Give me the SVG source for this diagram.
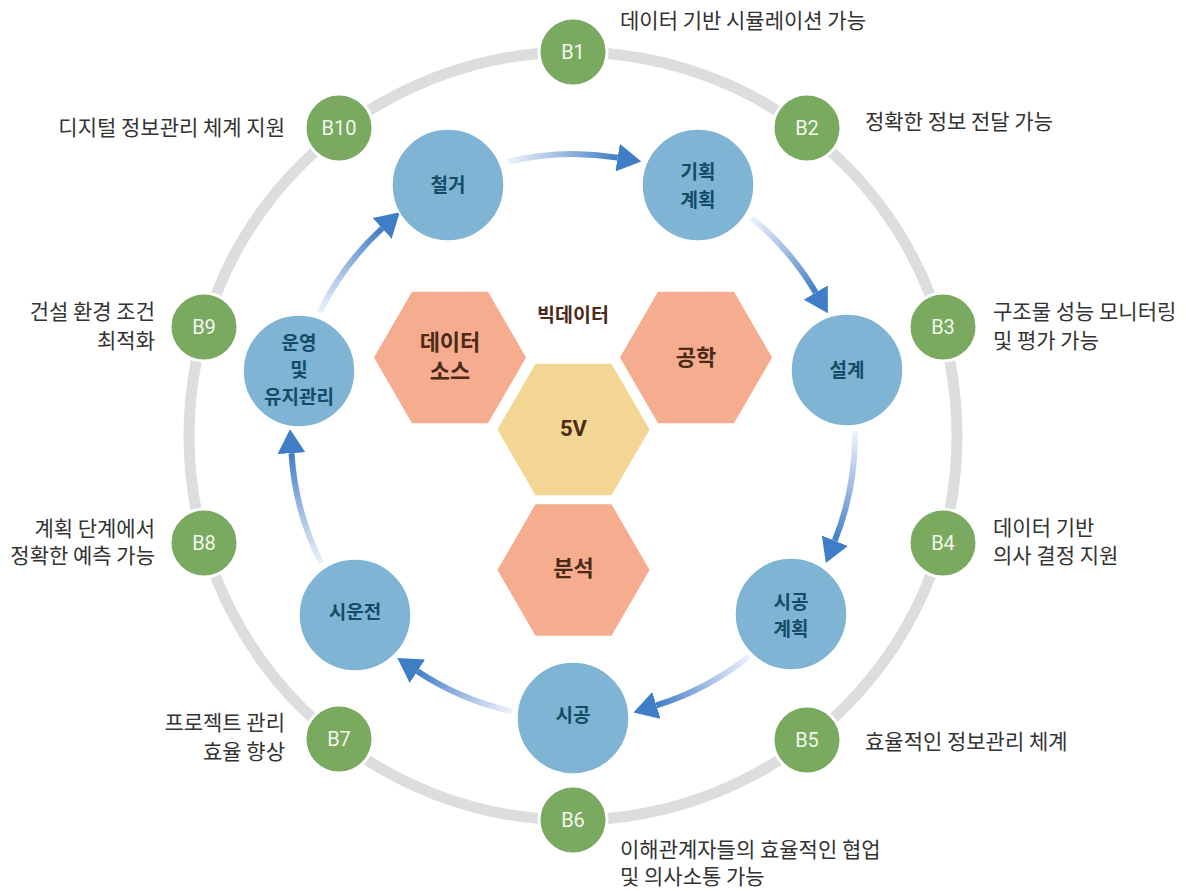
<svg xmlns="http://www.w3.org/2000/svg" width="1186" height="891" viewBox="0 0 1186 891">
<style>
.ring{fill:none;stroke:#dcdddf;stroke-width:11}
.bn{fill:#7aa960;stroke:#ffffff;stroke-width:3}
.bt{font-family:Roboto,"Noto Sans",sans-serif;font-size:20px;fill:#f3f7ee;text-anchor:middle}
.lb{font-family:"Noto Sans CJK KR","Noto Sans",sans-serif;font-size:21px;fill:#333333}
.pn{fill:#7fb4d4;stroke:#ffffff;stroke-width:1.5}
.pt{font-family:"Noto Sans CJK KR","Noto Sans",sans-serif;font-size:19px;font-weight:700;fill:#134c66;text-anchor:middle}
.hx{fill:#f6ac8f;stroke:#ffffff;stroke-width:1.5}
.hy{fill:#f4d694;stroke:#ffffff;stroke-width:1.5}
.ht{font-family:"Noto Sans CJK KR","Noto Sans",sans-serif;font-size:22px;font-weight:700;fill:#4b2a18;text-anchor:middle}
.ar{fill:none;stroke-width:6}
</style>
<defs>
<marker id="ah" markerUnits="userSpaceOnUse" markerWidth="24" markerHeight="28" viewBox="0 0 24 28" refX="0" refY="14" orient="auto">
<path d="M0,0 L24,14 L0,28 Z" fill="#3f7ec6"/>
</marker>
<linearGradient id="g1" gradientUnits="userSpaceOnUse" x1="507.2" y1="161.8" x2="617.6" y2="157.6"><stop offset="0" stop-color="#eef3fb"/><stop offset="0.5" stop-color="#9fbae3"/><stop offset="1" stop-color="#3f7ec6"/></linearGradient>
<linearGradient id="g2" gradientUnits="userSpaceOnUse" x1="751.6" y1="217.8" x2="815.7" y2="292.5"><stop offset="0" stop-color="#eef3fb"/><stop offset="0.5" stop-color="#9fbae3"/><stop offset="1" stop-color="#3f7ec6"/></linearGradient>
<linearGradient id="g3" gradientUnits="userSpaceOnUse" x1="854.9" y1="431.1" x2="834.8" y2="540.7"><stop offset="0" stop-color="#eef3fb"/><stop offset="0.5" stop-color="#9fbae3"/><stop offset="1" stop-color="#3f7ec6"/></linearGradient>
<linearGradient id="g4" gradientUnits="userSpaceOnUse" x1="748.9" y1="656.4" x2="656.4" y2="705.4"><stop offset="0" stop-color="#eef3fb"/><stop offset="0.5" stop-color="#9fbae3"/><stop offset="1" stop-color="#3f7ec6"/></linearGradient>
<linearGradient id="g5" gradientUnits="userSpaceOnUse" x1="512.0" y1="711.3" x2="417.4" y2="671.2"><stop offset="0" stop-color="#eef3fb"/><stop offset="0.5" stop-color="#9fbae3"/><stop offset="1" stop-color="#3f7ec6"/></linearGradient>
<linearGradient id="g6" gradientUnits="userSpaceOnUse" x1="321.3" y1="563.2" x2="291.5" y2="453.2"><stop offset="0" stop-color="#eef3fb"/><stop offset="0.5" stop-color="#9fbae3"/><stop offset="1" stop-color="#3f7ec6"/></linearGradient>
<linearGradient id="g7" gradientUnits="userSpaceOnUse" x1="319.5" y1="312.4" x2="382.1" y2="228.4"><stop offset="0" stop-color="#eef3fb"/><stop offset="0.5" stop-color="#9fbae3"/><stop offset="1" stop-color="#3f7ec6"/></linearGradient>
</defs>
<rect width="1186" height="891" fill="#ffffff"/>
<circle class="ring" cx="573" cy="436" r="384"/>

<g id="connectors">
<path class="ar" stroke="url(#g1)" marker-end="url(#ah)" d="M507.2,161.8 A282,282 0 0 1 617.6,157.6"/>
<path class="ar" stroke="url(#g2)" marker-end="url(#ah)" d="M751.6,217.8 A282,282 0 0 1 815.7,292.5"/>
<path class="ar" stroke="url(#g3)" marker-end="url(#ah)" d="M854.9,431.1 A282,282 0 0 1 834.8,540.7"/>
<path class="ar" stroke="url(#g4)" marker-end="url(#ah)" d="M748.9,656.4 A282,282 0 0 1 656.4,705.4"/>
<path class="ar" stroke="url(#g5)" marker-end="url(#ah)" d="M512.0,711.3 A282,282 0 0 1 417.4,671.2"/>
<path class="ar" stroke="url(#g6)" marker-end="url(#ah)" d="M321.3,563.2 A282,282 0 0 1 291.5,453.2"/>
<path class="ar" stroke="url(#g7)" marker-end="url(#ah)" d="M319.5,312.4 A282,282 0 0 1 382.1,228.4"/>
</g>

<g id="B1"><circle class="bn" cx="573" cy="52" r="34"/><text class="bt" x="573" y="59">B1</text><text class="lb" x="620" y="28">데이터 기반 시뮬레이션 가능</text></g>
<g id="B2"><circle class="bn" cx="807" cy="128" r="34"/><text class="bt" x="807" y="135">B2</text><text class="lb" x="865" y="129">정확한 정보 전달 가능</text></g>
<g id="B3"><circle class="bn" cx="943" cy="327" r="34"/><text class="bt" x="943" y="334">B3</text><text class="lb" x="993" y="319">구조물 성능 모니터링</text><text class="lb" x="993" y="348">및 평가 가능</text></g>
<g id="B4"><circle class="bn" cx="943" cy="543" r="34"/><text class="bt" x="943" y="550">B4</text><text class="lb" x="993" y="535">데이터 기반</text><text class="lb" x="993" y="563">의사 결정 지원</text></g>
<g id="B5"><circle class="bn" cx="807" cy="740" r="34"/><text class="bt" x="807" y="747">B5</text><text class="lb" x="865" y="749">효율적인 정보관리 체계</text></g>
<g id="B6"><circle class="bn" cx="573" cy="820" r="34"/><text class="bt" x="573" y="827">B6</text><text class="lb" x="620" y="857">이해관계자들의 효율적인 협업</text><text class="lb" x="620" y="884">및 의사소통 가능</text></g>
<g id="B7"><circle class="bn" cx="339" cy="739" r="34"/><text class="bt" x="339" y="746">B7</text><text class="lb" x="285" y="730" text-anchor="end">프로젝트 관리</text><text class="lb" x="285" y="759" text-anchor="end">효율 향상</text></g>
<g id="B8"><circle class="bn" cx="204" cy="543" r="34"/><text class="bt" x="204" y="550">B8</text><text class="lb" x="155" y="536" text-anchor="end">계획 단계에서</text><text class="lb" x="155" y="563" text-anchor="end">정확한 예측 가능</text></g>
<g id="B9"><circle class="bn" cx="204" cy="327" r="34"/><text class="bt" x="204" y="334">B9</text><text class="lb" x="155" y="319" text-anchor="end">건설 환경 조건</text><text class="lb" x="155" y="348" text-anchor="end">최적화</text></g>
<g id="B10"><circle class="bn" cx="339" cy="128" r="34"/><text class="bt" x="339" y="135">B10</text><text class="lb" x="285" y="135" text-anchor="end">디지털 정보관리 체계 지원</text></g>

<g id="demolition"><circle class="pn" cx="448" cy="185" r="56"/><text class="pt" x="448" y="192">철거</text></g>
<g id="planning"><circle class="pn" cx="698" cy="185" r="56"/><text class="pt" x="698" y="179">기획</text><text class="pt" x="698" y="207">계획</text></g>
<g id="design"><circle class="pn" cx="847" cy="370" r="56"/><text class="pt" x="847" y="377">설계</text></g>
<g id="construction-plan"><circle class="pn" cx="791" cy="614" r="56"/><text class="pt" x="791" y="609">시공</text><text class="pt" x="791" y="636">계획</text></g>
<g id="construction"><circle class="pn" cx="573" cy="718" r="56"/><text class="pt" x="573" y="722">시공</text></g>
<g id="commissioning"><circle class="pn" cx="355" cy="615" r="56"/><text class="pt" x="355" y="619">시운전</text></g>
<g id="operation"><circle class="pn" cx="299" cy="371" r="56"/><text class="pt" x="299" y="350">운영</text><text class="pt" x="299" y="377">및</text><text class="pt" x="299" y="404">유지관리</text></g>

<g id="bigdata-label"><text class="ht" x="573" y="322" style="font-size:19.5px">빅데이터</text></g>
<g id="hex-datasource"><polygon class="hx" points="373,357.5 411.5,291 488.5,291 527,357.5 488.5,424 411.5,424"/><text class="ht" x="450" y="350">데이터</text><text class="ht" x="450" y="379">소스</text></g>
<g id="hex-engineering"><polygon class="hx" points="619,357.5 657.5,291 734.5,291 773,357.5 734.5,424 657.5,424"/><text class="ht" x="696" y="365">공학</text></g>
<g id="hex-5v"><polygon class="hy" points="496.5,429.5 535,363 612,363 650.5,429.5 612,496 535,496"/><text class="ht" x="573.5" y="436" style="font-family:Roboto,'Noto Sans',sans-serif">5V</text></g>
<g id="hex-analysis"><polygon class="hx" points="496.5,570 535,503.5 612,503.5 650.5,570 612,636.5 535,636.5"/><text class="ht" x="573.5" y="576">분석</text></g>
</svg>
